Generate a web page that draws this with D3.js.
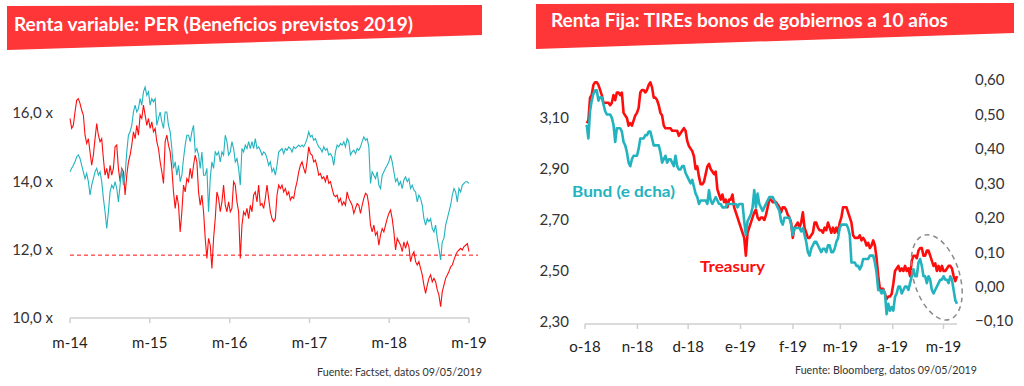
<!DOCTYPE html>
<html><head><meta charset="utf-8">
<script src="https://cdn.jsdelivr.net/npm/d3@7"></script>
<style>body{margin:0;background:#fff} svg{display:block} text{font-family:Lato,"Open Sans",sans-serif}</style>
</head><body><svg id="c" width="1024" height="386"></svg>
<script>
// ---------- Left chart data: PER (beneficios previstos 2019) ----------
const perStart = new Date(2014, 4, 9), perEnd = new Date(2019, 4, 9);
const perTickDates = [new Date(2014,4,9), new Date(2015,4,9), new Date(2016,4,9), new Date(2017,4,9), new Date(2018,4,9), new Date(2019,4,9)];
const perTickLabels = ["m-14","m-15","m-16","m-17","m-18","m-19"];
const perYTicks = [10, 12, 14, 16];
const perReference = 11.84;
const perRed = [
15.84,15.55,15.64,16.03,16.37,16.42,16.28,16.08,15.94,15.35,
15.11,15.25,14.86,14.47,14.77,15.25,15.69,15.35,15.16,15.25,
14.67,14.18,14.38,14.08,14.47,14.18,14.38,15.01,15.06,14.38,
13.99,14.38,14.28,13.60,14.18,14.57,14.77,15.06,15.45,15.25,
15.64,15.35,15.94,15.84,16.23,15.94,15.64,15.84,15.55,15.74,
15.45,15.55,15.16,14.96,14.57,14.28,13.94,15.16,15.35,15.06,
14.86,14.38,13.69,13.21,13.60,13.30,12.52,13.11,13.89,13.69,
14.08,13.99,14.38,14.08,14.47,14.77,14.57,13.69,13.30,13.60,
13.11,12.33,11.74,12.33,12.13,11.45,12.33,12.91,13.69,13.50,
13.11,13.40,13.89,13.30,13.11,13.40,13.11,13.21,13.99,13.89,
13.40,13.11,11.74,12.72,13.11,13.01,13.21,12.91,13.30,13.11,
13.60,13.69,13.40,13.89,13.30,13.35,13.21,13.50,13.89,13.50,
13.11,12.91,12.82,12.91,13.60,13.89,13.79,13.89,13.69,13.79,
13.60,13.69,13.45,13.55,13.50,13.79,13.99,14.28,14.47,14.57,
14.38,14.23,14.57,15.01,14.81,14.77,14.57,14.62,14.43,14.18,
14.23,14.08,14.13,13.99,14.18,13.94,13.99,13.79,13.60,13.55,
13.60,13.40,13.50,13.30,13.40,13.30,13.69,13.50,13.40,13.30,
13.06,13.21,13.35,13.30,13.06,13.30,13.50,13.65,13.60,13.30,
12.72,12.52,12.72,12.43,12.52,12.13,12.43,12.62,12.52,12.72,
12.91,13.06,13.16,12.91,12.52,11.99,12.33,12.23,12.13,11.94,
12.23,12.04,12.23,12.09,11.65,11.84,11.94,11.65,11.55,11.65,
11.45,11.26,10.96,10.72,10.96,11.16,11.26,11.06,11.16,11.06,
10.82,10.67,10.33,10.77,10.96,11.16,11.26,11.36,11.50,11.55,
11.70,11.84,11.94,11.99,12.04,11.99,12.09,12.13,12.18,11.94];
const perTeal = [
14.28,14.38,14.47,14.57,14.72,14.77,14.67,14.47,14.28,14.08,
14.23,13.99,13.60,13.89,14.08,14.28,14.38,14.18,14.28,13.99,
13.50,13.11,12.62,13.11,13.69,13.89,13.79,13.99,13.79,13.40,
13.89,14.38,13.89,14.18,14.86,15.35,15.45,15.64,16.03,16.23,
16.03,16.13,16.42,16.23,16.62,16.76,16.52,16.62,16.23,16.42,
16.33,16.42,15.64,15.84,16.03,15.74,15.55,16.03,16.03,15.64,
15.45,14.96,14.38,14.57,14.18,14.47,13.99,14.18,14.67,15.06,
15.35,15.35,15.16,15.45,15.64,14.86,14.96,14.77,14.38,14.86,
14.18,14.18,14.38,13.11,14.08,14.57,14.38,14.86,14.77,14.86,
14.57,14.86,14.77,15.35,15.16,14.77,14.86,15.16,14.96,14.57,
14.67,14.38,13.89,14.96,14.86,15.06,14.96,15.16,14.96,15.16,
14.96,15.25,14.96,15.01,14.91,14.77,14.86,14.81,14.67,14.47,
14.57,14.28,14.38,14.18,14.47,14.86,14.91,14.96,14.81,14.96,
14.91,15.01,14.96,14.86,15.01,14.96,15.01,15.06,15.01,15.06,
15.01,15.11,15.25,15.45,15.30,15.35,15.20,15.25,15.11,15.01,
14.96,14.86,15.01,14.91,14.96,14.77,14.81,14.72,14.47,14.86,
15.06,15.01,15.11,15.06,15.16,15.01,15.25,15.16,14.77,14.86,
14.91,14.81,14.96,14.91,15.01,15.16,15.30,15.20,15.25,15.01,
13.94,14.28,14.18,14.08,14.28,13.89,13.79,14.18,14.28,14.38,
14.47,14.57,14.77,14.57,14.28,13.99,14.08,13.89,13.99,13.79,
14.04,14.13,13.99,14.08,13.79,13.89,13.74,13.69,13.40,13.60,
13.50,13.30,12.91,12.72,12.91,12.82,12.91,12.62,12.52,12.72,
12.33,12.04,11.70,12.23,12.33,12.72,12.91,13.11,13.30,13.60,
13.79,13.69,13.40,13.79,13.69,13.89,13.94,13.99,13.99,13.94];

// ---------- Right chart data: TIREs bonos 10 años ----------
const tirStart = new Date(2018, 9, 2), tirEnd = new Date(2019, 4, 9);
const tirTickDates = [new Date(2018,9,1), new Date(2018,10,1), new Date(2018,11,1), new Date(2019,0,1), new Date(2019,1,1), new Date(2019,2,1), new Date(2019,3,1), new Date(2019,4,1)];
const tirTickLabels = ["o-18","n-18","d-18","e-19","f-19","m-19","a-19","m-19"];
const treasuryTicks = [2.30, 2.50, 2.70, 2.90, 3.10];
const bundTicks = [-0.10, 0.00, 0.10, 0.20, 0.30, 0.40, 0.50, 0.60];
const treasury = [
3.08,3.09,3.18,3.19,3.23,3.24,3.24,3.23,3.21,3.19,
3.16,3.16,3.16,3.16,3.15,3.16,3.19,3.17,3.20,3.20,
3.19,3.20,3.12,3.11,3.10,3.07,3.08,3.07,3.09,3.11,
3.12,3.14,3.20,3.21,3.21,3.20,3.21,3.23,3.24,3.22,
3.18,3.18,3.17,3.15,3.12,3.11,3.07,3.06,3.06,3.06,
3.06,3.05,3.05,3.05,3.05,3.03,3.04,3.05,3.06,3.05,
3.01,2.99,2.98,2.97,2.95,2.90,2.91,2.87,2.84,2.84,
2.85,2.88,2.91,2.92,2.90,2.89,2.88,2.89,2.82,2.80,
2.78,2.80,2.77,2.78,2.75,2.78,2.78,2.80,2.75,2.73,
2.71,2.69,2.67,2.65,2.63,2.56,2.65,2.67,2.69,2.71,
2.73,2.74,2.71,2.70,2.71,2.71,2.70,2.72,2.75,2.78,
2.78,2.77,2.77,2.77,2.76,2.75,2.73,2.75,2.75,2.74,
2.72,2.71,2.69,2.63,2.67,2.68,2.69,2.67,2.69,2.73,
2.67,2.65,2.63,2.63,2.64,2.65,2.69,2.69,2.67,2.66,
2.66,2.65,2.67,2.66,2.69,2.67,2.65,2.67,2.65,2.67,
2.65,2.69,2.71,2.75,2.75,2.75,2.73,2.71,2.69,2.64,
2.63,2.63,2.63,2.64,2.62,2.63,2.62,2.60,2.61,2.59,
2.60,2.62,2.60,2.55,2.48,2.43,2.43,2.43,2.41,2.39,
2.40,2.40,2.41,2.45,2.50,2.51,2.52,2.50,2.51,2.50,
2.52,2.50,2.51,2.48,2.54,2.56,2.56,2.55,2.58,2.59,
2.59,2.56,2.56,2.58,2.58,2.56,2.54,2.52,2.53,2.50,
2.52,2.50,2.52,2.50,2.50,2.51,2.52,2.52,2.51,2.48,
2.46,2.48];
const bund = [
0.47,0.43,0.51,0.54,0.56,0.57,0.57,0.54,0.55,0.55,
0.53,0.51,0.50,0.50,0.50,0.49,0.47,0.42,0.46,0.46,
0.46,0.45,0.42,0.41,0.39,0.36,0.35,0.37,0.38,0.38,
0.38,0.40,0.43,0.43,0.43,0.44,0.44,0.45,0.45,0.43,
0.41,0.41,0.41,0.41,0.39,0.36,0.37,0.38,0.36,0.37,
0.37,0.36,0.35,0.38,0.35,0.34,0.34,0.35,0.35,0.33,
0.32,0.31,0.30,0.31,0.29,0.27,0.26,0.24,0.25,0.25,
0.25,0.25,0.24,0.28,0.25,0.24,0.25,0.26,0.25,0.24,
0.24,0.23,0.23,0.23,0.24,0.24,0.24,0.24,0.24,0.24,
0.23,0.24,0.24,0.24,0.19,0.15,0.19,0.20,0.21,0.23,
0.28,0.23,0.27,0.24,0.23,0.22,0.23,0.24,0.25,0.26,
0.26,0.26,0.25,0.24,0.23,0.22,0.19,0.18,0.20,0.20,
0.20,0.20,0.18,0.15,0.17,0.17,0.17,0.17,0.16,0.17,
0.15,0.13,0.10,0.09,0.11,0.12,0.13,0.13,0.12,0.11,
0.10,0.11,0.11,0.10,0.12,0.12,0.10,0.10,0.11,0.13,
0.14,0.17,0.18,0.18,0.18,0.18,0.17,0.15,0.07,0.07,
0.07,0.06,0.06,0.05,0.06,0.08,0.08,0.08,0.08,0.09,
0.09,0.09,0.07,0.04,-0.01,-0.01,-0.02,-0.01,-0.02,-0.08,
-0.05,-0.07,-0.06,-0.07,-0.03,-0.02,0.00,0.00,-0.02,-0.01,
0.00,0.00,-0.01,0.01,0.03,0.05,0.03,0.03,0.07,0.08,
0.06,0.03,0.03,0.01,0.03,0.02,-0.01,-0.02,-0.01,0.00,
0.01,0.02,0.02,0.03,0.02,0.02,0.01,0.03,0.02,-0.01,
-0.04,-0.05];

const RED = "#ff0d0d", TEAL = "#22b3bf", BANNER = "#ff3638";
const svg = d3.select("#c");
const comma = (f) => (v) => f(v).replace(".", ",");

function evenDates(start, end, n) {
  return d3.range(n).map(i => new Date(+start + i * (end - start) / (n - 1)));
}

// ---------- Banners ----------
function banner(pts, label, tx, ty, tlen) {
  svg.append("path").attr("d", "M" + pts.map(p => p.join(",")).join("L") + "Z").attr("fill", BANNER);
  svg.append("text").attr("x", tx).attr("y", ty).attr("fill", "#fff")
    .attr("font-size", 19).attr("font-weight", 700)
    .attr("textLength", tlen).attr("lengthAdjust", "spacingAndGlyphs").text(label);
}
banner([[7,6],[482,5],[482,35],[7,50]], "Renta variable: PER (Beneficios previstos 2019)", 14, 31, 399);
banner([[536,4],[1014,3],[1014,33],[536,49]], "Renta Fija: TIREs bonos de gobiernos a 10 años", 551, 27, 397);

// ---------- Left chart ----------
const xL = d3.scaleTime().domain([perStart, perEnd]).range([70, 469]);
const yL = d3.scaleLinear().domain([10, 16]).range([318, 113]);
const gL = svg.append("g");
gL.selectAll(".yl").data(perYTicks).enter().append("text")
  .attr("x", 53).attr("y", d => yL(d)).attr("dy", "0.36em").attr("text-anchor", "end")
  .attr("font-size", 15).attr("fill", "#333").text(d => comma(d3.format(".1f"))(d) + " x");
gL.append("line").attr("x1", 70).attr("x2", 469).attr("y1", 318).attr("y2", 318)
  .attr("stroke", "#cfcfcf").attr("stroke-width", 1.5);
gL.selectAll(".tk").data(perTickDates).enter().append("line")
  .attr("x1", d => xL(d)).attr("x2", d => xL(d)).attr("y1", 318).attr("y2", 323)
  .attr("stroke", "#cfcfcf").attr("stroke-width", 1.5);
gL.selectAll(".xl").data(perTickDates).enter().append("text")
  .attr("x", d => xL(d)).attr("y", 348).attr("text-anchor", "middle")
  .attr("font-size", 15).attr("fill", "#222").text((d, i) => perTickLabels[i]);
gL.append("line").attr("x1", 70).attr("x2", 478).attr("y1", yL(perReference)).attr("y2", yL(perReference))
  .attr("stroke", RED).attr("stroke-width", 1).attr("stroke-dasharray", "4,3");
const dL = evenDates(perStart, perEnd, perRed.length);
const lineL = d3.line().x((d, i) => xL(dL[i])).y(d => yL(d));
gL.append("path").datum(perRed).attr("d", lineL).attr("fill", "none").attr("stroke", RED).attr("stroke-width", 1.1);
gL.append("path").datum(perTeal).attr("d", lineL).attr("fill", "none").attr("stroke", TEAL).attr("stroke-width", 1.1);
svg.append("text").attr("x", 317).attr("y", 376).attr("font-size", 11).attr("fill", "#333")
  .attr("textLength", 165).attr("lengthAdjust", "spacingAndGlyphs").text("Fuente: Factset, datos 09/05/2019");

// ---------- Right chart ----------
const xR = d3.scaleTime().domain([new Date(2018, 9, 1), new Date(2019, 4, 9)]).range([585, 957]);
const yT = d3.scaleLinear().domain([2.3, 3.1]).range([322, 118]);
const yB = d3.scaleLinear().domain([-0.1, 0.6]).range([321, 80]);
const gR = svg.append("g");
gR.selectAll(".yt").data(treasuryTicks).enter().append("text")
  .attr("x", 569).attr("y", d => yT(d)).attr("dy", "0.36em").attr("text-anchor", "end")
  .attr("font-size", 15).attr("fill", "#333").text(d => comma(d3.format(".2f"))(d));
gR.selectAll(".yb").data(bundTicks).enter().append("text")
  .attr("x", 975).attr("y", d => yB(d)).attr("dy", "0.36em").attr("text-anchor", "start")
  .attr("font-size", 15).attr("fill", "#333").text(d => comma(d3.format(".2f"))(d));
gR.append("line").attr("x1", 585).attr("x2", 957).attr("y1", 324).attr("y2", 324)
  .attr("stroke", "#cfcfcf").attr("stroke-width", 1.5);
gR.selectAll(".tk").data(tirTickDates).enter().append("line")
  .attr("x1", d => xR(d)).attr("x2", d => xR(d)).attr("y1", 324).attr("y2", 329)
  .attr("stroke", "#cfcfcf").attr("stroke-width", 1.5);
gR.selectAll(".xl").data(tirTickDates).enter().append("text")
  .attr("x", d => xR(d)).attr("y", 352).attr("text-anchor", "middle")
  .attr("font-size", 15).attr("fill", "#222").text((d, i) => tirTickLabels[i]);
const dR = evenDates(tirStart, tirEnd, treasury.length);
gR.append("path").datum(treasury).attr("d", d3.line().x((d, i) => xR(dR[i])).y(d => yT(d)))
  .attr("fill", "none").attr("stroke", RED).attr("stroke-width", 2.6).attr("stroke-linejoin", "round");
gR.append("path").datum(bund).attr("d", d3.line().x((d, i) => xR(dR[i])).y(d => yB(d)))
  .attr("fill", "none").attr("stroke", TEAL).attr("stroke-width", 2.6).attr("stroke-linejoin", "round");
gR.append("text").attr("x", 572).attr("y", 197).attr("font-size", 16).attr("font-weight", 700)
  .attr("fill", TEAL).attr("textLength", 103).attr("lengthAdjust", "spacingAndGlyphs").text("Bund (e dcha)");
gR.append("text").attr("x", 700).attr("y", 272).attr("font-size", 16).attr("font-weight", 700)
  .attr("fill", RED).attr("textLength", 65).attr("lengthAdjust", "spacingAndGlyphs").text("Treasury");
// highlight ellipse on the latest weeks
const ellC = [xR(new Date(2019, 3, 27)), yT(2.475)];
gR.append("ellipse").attr("cx", 0).attr("cy", 0).attr("rx", 23).attr("ry", 44)
  .attr("transform", `translate(${ellC[0]},${ellC[1]}) rotate(-17)`)
  .attr("fill", "none").attr("stroke", "#8a8a8a").attr("stroke-width", 1.5).attr("stroke-dasharray", "5,4");
svg.append("text").attr("x", 795).attr("y", 374).attr("font-size", 11).attr("fill", "#333")
  .attr("textLength", 182).attr("lengthAdjust", "spacingAndGlyphs").text("Fuente: Bloomberg, datos 09/05/2019");
</script></body></html>
